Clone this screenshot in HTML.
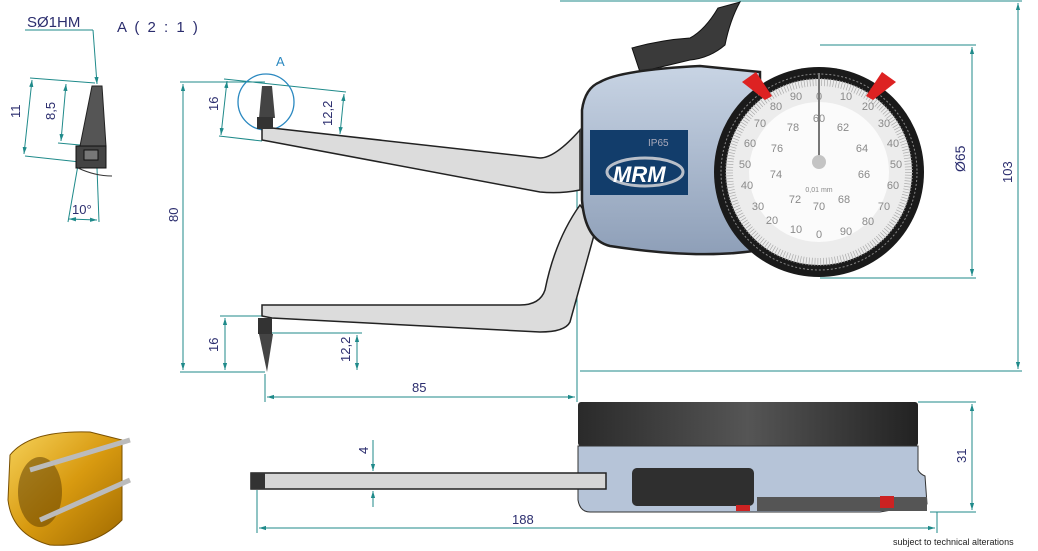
<!DOCTYPE html>
<html><head><meta charset="utf-8"><style>
html,body{margin:0;padding:0;background:#fff}
svg{display:block}
text{font-family:"Liberation Sans","DejaVu Sans",sans-serif;fill:#2b2d6e}
.dial text{fill:#8a8a8a}
</style></head><body>
<svg width="1038" height="551" viewBox="0 0 1038 551" xmlns="http://www.w3.org/2000/svg">
<defs>
<marker id="a" viewBox="0 0 10 10" refX="10" refY="5" markerWidth="7" markerHeight="7" orient="auto-start-reverse"><path d="M0,2 L10,5 L0,8 z" fill="#1f8a8a"/></marker>
<linearGradient id="gb" x1="0" y1="0" x2="0" y2="1"><stop offset="0" stop-color="#c8d4e4"/><stop offset="1" stop-color="#8e9fb8"/></linearGradient>
<linearGradient id="gd" x1="0" y1="0" x2="1" y2="0"><stop offset="0" stop-color="#2a2a2a"/><stop offset=".5" stop-color="#555"/><stop offset="1" stop-color="#222"/></linearGradient>
<linearGradient id="gg" x1="0" y1="0" x2="1" y2="1"><stop offset="0" stop-color="#f6d25a"/><stop offset=".5" stop-color="#d89a10"/><stop offset="1" stop-color="#a06a00"/></linearGradient>
</defs>
<g stroke="#1f8a8a" stroke-width="1" fill="none">
<line x1="560" y1="1" x2="1022" y2="1"/><line x1="580" y1="371" x2="1022" y2="371"/>
<line x1="1018" y1="3" x2="1018" y2="369" marker-start="url(#a)" marker-end="url(#a)"/>
<line x1="820" y1="45" x2="976" y2="45"/><line x1="820" y1="278" x2="976" y2="278"/>
<line x1="972" y1="47" x2="972" y2="276" marker-start="url(#a)" marker-end="url(#a)"/>
<line x1="180" y1="82" x2="265" y2="82"/><line x1="180" y1="372" x2="265" y2="372"/>
<line x1="183" y1="84" x2="183" y2="370" marker-start="url(#a)" marker-end="url(#a)"/>
<line x1="224" y1="79" x2="346" y2="92"/><line x1="219" y1="136" x2="262" y2="141"/>
<line x1="227" y1="81" x2="221" y2="135" marker-start="url(#a)" marker-end="url(#a)"/>
<line x1="344" y1="94" x2="340" y2="134" marker-start="url(#a)" marker-end="url(#a)"/>
<line x1="220" y1="316" x2="262" y2="316"/><line x1="262" y1="333" x2="362" y2="333"/>
<line x1="225" y1="318" x2="225" y2="370" marker-start="url(#a)" marker-end="url(#a)"/>
<line x1="357" y1="335" x2="357" y2="370" marker-start="url(#a)" marker-end="url(#a)"/>
<line x1="265" y1="374" x2="265" y2="402"/><line x1="577" y1="190" x2="577" y2="402"/>
<line x1="267" y1="397" x2="575" y2="397" marker-start="url(#a)" marker-end="url(#a)"/>
<line x1="918" y1="402" x2="976" y2="402"/><line x1="930" y1="512" x2="976" y2="512"/>
<line x1="972" y1="404" x2="972" y2="510" marker-start="url(#a)" marker-end="url(#a)"/>
<line x1="257" y1="490" x2="257" y2="533"/><line x1="937" y1="512" x2="937" y2="533"/>
<line x1="259" y1="528" x2="935" y2="528" marker-start="url(#a)" marker-end="url(#a)"/>
<line x1="373" y1="440" x2="373" y2="471" marker-end="url(#a)"/>
<line x1="373" y1="507" x2="373" y2="491" marker-end="url(#a)"/>
<line x1="25" y1="30" x2="93" y2="30"/><line x1="93" y1="30" x2="97" y2="84" marker-end="url(#a)"/>
<line x1="30" y1="78" x2="95" y2="83"/><line x1="25" y1="156" x2="80" y2="162"/><line x1="58" y1="143" x2="80" y2="145"/>
<line x1="32" y1="80" x2="24" y2="154" marker-start="url(#a)" marker-end="url(#a)"/>
<line x1="66" y1="84" x2="61" y2="141" marker-start="url(#a)" marker-end="url(#a)"/>
<line x1="78" y1="165" x2="68" y2="222"/><line x1="97" y1="168" x2="99" y2="222"/>
<line x1="69" y1="219" x2="97" y2="220" marker-start="url(#a)" marker-end="url(#a)"/>
</g>
<circle cx="266" cy="102" r="28" fill="none" stroke="#2a88c0" stroke-width="1.3"/>
<text x="276" y="66" font-size="13" style="fill:#2a88c0">A</text>
<text x="27" y="27" font-size="15">SØ1HM</text>
<text x="117" y="32" font-size="15" letter-spacing="2">A ( 2 : 1 )</text>
<text transform="translate(20,118) rotate(-90)" font-size="13">11</text>
<text transform="translate(55,120) rotate(-90)" font-size="13">8,5</text>
<text x="72" y="214" font-size="13">10°</text>
<text transform="translate(218,111) rotate(-90)" font-size="13">16</text>
<text transform="translate(332,126) rotate(-90)" font-size="13">12,2</text>
<text transform="translate(178,222) rotate(-90)" font-size="13">80</text>
<text transform="translate(218,352) rotate(-90)" font-size="13">16</text>
<text transform="translate(350,362) rotate(-90)" font-size="13">12,2</text>
<text x="412" y="392" font-size="13">85</text>
<text transform="translate(965,172) rotate(-90)" font-size="14">Ø65</text>
<text transform="translate(1012,183) rotate(-90)" font-size="13">103</text>
<text transform="translate(966,463) rotate(-90)" font-size="13">31</text>
<text transform="translate(368,454) rotate(-90)" font-size="13">4</text>
<text x="512" y="524" font-size="13">188</text>
<text x="893" y="545" font-size="9" style="fill:#222">subject to technical alterations</text>
<path d="M92,86 L102,86 L106,146 L80,146 Z" fill="#555" stroke="#222"/>
<rect x="76" y="146" width="30" height="22" fill="#444" stroke="#111"/>
<rect x="84" y="150" width="14" height="10" fill="#777" stroke="#111"/>
<path d="M78,168 Q95,176 112,176" stroke="#333" fill="none"/>
<path d="M262,128 L272,128 L540,158 Q555,158 580,130 L580,190 Q560,194 540,192 L262,140 Z" fill="#dcdcdc" stroke="#222" stroke-width="1.5"/>
<path d="M262,316 L272,318 L540,332 Q565,332 570,322 L596,228 L580,205 Q555,240 545,290 Q540,305 520,305 L262,305 Z" fill="#dcdcdc" stroke="#222" stroke-width="1.5"/>
<path d="M262,86 L272,86 L275,118 L259,118 Z" fill="#444"/>
<rect x="257" y="117" width="16" height="12" fill="#333"/>
<rect x="258" y="318" width="14" height="16" fill="#333"/>
<path d="M259,334 L273,334 L267,372 Z" fill="#444"/>
<path d="M632,48 Q660,40 690,38 Q705,30 718,8 L740,2 Q730,20 725,45 Q710,58 690,60 L640,72 Z" fill="#3a3a3a" stroke="#111"/>
<path d="M600,82 Q620,70 700,66 L760,72 L760,250 Q700,260 610,246 Q585,240 582,200 L582,110 Q585,88 600,82 Z" fill="url(#gb)" stroke="#222" stroke-width="2.5"/>
<rect x="590" y="130" width="98" height="65" fill="#123d6b"/>
<text x="648" y="146" font-size="10" style="fill:#aab">IP65</text>
<ellipse cx="645" cy="172" rx="38" ry="14" fill="none" stroke="#b9bfc9" stroke-width="3"/>
<text x="613" y="182" font-size="22" font-weight="bold" font-style="italic" style="fill:#fff">MRM</text>
<circle cx="819" cy="172" r="105" fill="#1a1a1a"/>
<circle cx="819" cy="172" r="98" fill="none" stroke="#888" stroke-width="1" stroke-dasharray="2 2"/>
<circle cx="819" cy="172" r="93" fill="#ececec"/>
<circle cx="819" cy="172" r="90" fill="none" stroke="#aaa" stroke-width="8" stroke-dasharray="0.7 2.2"/>
<circle cx="819" cy="172" r="70" fill="#fbfbfb"/>
<g class="dial" font-size="11" text-anchor="middle">
<text x="819" y="100">0</text><text x="846" y="100">10</text><text x="868" y="110">20</text><text x="884" y="127">30</text><text x="893" y="147">40</text><text x="896" y="168">50</text><text x="893" y="189">60</text><text x="884" y="210">70</text><text x="868" y="225">80</text><text x="846" y="235">90</text>
<text x="819" y="238">0</text><text x="796" y="233">10</text><text x="772" y="224">20</text><text x="758" y="210">30</text><text x="747" y="189">40</text><text x="745" y="168">50</text><text x="750" y="147">60</text><text x="760" y="127">70</text><text x="776" y="110">80</text><text x="796" y="100">90</text>
<text x="819" y="122">60</text><text x="843" y="131">62</text><text x="862" y="152">64</text><text x="864" y="178">66</text><text x="844" y="203">68</text><text x="819" y="210">70</text><text x="795" y="203">72</text><text x="776" y="178">74</text><text x="777" y="152">76</text><text x="793" y="131">78</text>
<text x="819" y="192" font-size="7">0,01 mm</text>
</g>
<line x1="819" y1="73" x2="819" y2="160" stroke="#777" stroke-width="2"/>
<circle cx="819" cy="162" r="7" fill="#c4c4c4"/>
<path d="M742,82 L756,72 L772,96 L765,100 Z" fill="#d22"/><path d="M896,82 L882,72 L866,96 L873,100 Z" fill="#d22"/>
<rect x="578" y="402" width="340" height="44" rx="3" fill="url(#gd)"/>
<path d="M578,446 L918,446 L918,470 Q920,474 925,476 L927,504 L880,512 L590,512 Q580,512 578,500 Z" fill="#b6c4d8" stroke="#333"/>
<rect x="757" y="497" width="170" height="14" fill="#555"/>
<rect x="251" y="473" width="355" height="16" fill="#d6d6d6" stroke="#222" stroke-width="1.5"/>
<rect x="251" y="473" width="14" height="16" fill="#333"/>
<rect x="632" y="468" width="122" height="38" rx="5" fill="#2f2f2f"/>
<rect x="880" y="496" width="14" height="12" fill="#c22"/><rect x="736" y="505" width="14" height="6" fill="#c22"/>
<path d="M10,455 Q30,430 90,432 L122,440 L122,520 Q95,548 50,545 Q12,535 8,500 Z" fill="url(#gg)" stroke="#7a5000"/>
<ellipse cx="40" cy="492" rx="22" ry="35" fill="#5a3a00" opacity=".5"/>
<path d="M30,470 L130,440 M40,520 L130,480" stroke="#bbb" stroke-width="5"/>
</svg>
</body></html>
